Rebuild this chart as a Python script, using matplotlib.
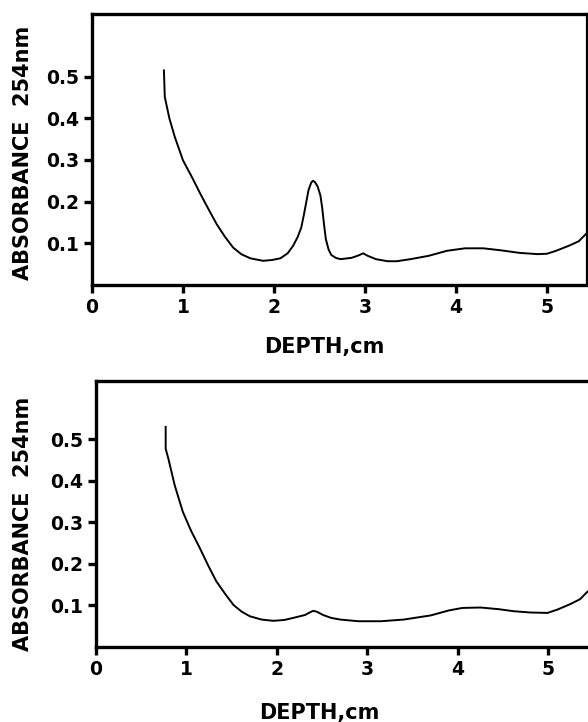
import matplotlib
matplotlib.use("Agg")
import matplotlib.pyplot as plt

plt.rcParams['font.family'] = ['DejaVu Sans']

# Top panel (depth in cm, absorbance at 254 nm)
depth_top = [0.79, 0.80, 0.85, 0.91, 1.00, 1.10, 1.19, 1.28, 1.37, 1.46, 1.55, 1.64,
             1.74, 1.88, 1.98, 2.07, 2.15, 2.21, 2.26, 2.30, 2.33, 2.36, 2.38, 2.41, 2.43,
             2.45, 2.48, 2.51, 2.53, 2.55, 2.57, 2.60, 2.63, 2.68, 2.73, 2.85, 2.93, 2.98, 3.03, 3.12,
             3.25, 3.35, 3.50, 3.70, 3.90, 4.10, 4.30, 4.50, 4.70, 4.90, 5.00, 5.10,
             5.25, 5.35, 5.44]
abs_top = [0.517, 0.451, 0.400, 0.355, 0.299, 0.258, 0.219, 0.182, 0.146, 0.116, 0.090, 0.074,
           0.064, 0.058, 0.060, 0.064, 0.076, 0.094, 0.115, 0.138, 0.170, 0.205, 0.228, 0.246, 0.250,
           0.247, 0.236, 0.215, 0.185, 0.145, 0.110, 0.085, 0.072, 0.065, 0.062, 0.065, 0.071, 0.076, 0.070, 0.062,
           0.057, 0.057, 0.062, 0.070, 0.082, 0.088, 0.088, 0.083, 0.077, 0.074, 0.075, 0.082,
           0.095, 0.105, 0.125]

# Bottom panel
depth_bot = [0.77, 0.77, 0.80, 0.87, 0.96, 1.05, 1.15, 1.24, 1.33, 1.43, 1.52, 1.61,
             1.70, 1.83, 1.96, 2.08, 2.18, 2.31, 2.37, 2.40, 2.44, 2.51, 2.60, 2.70, 2.90,
             3.15, 3.40, 3.55, 3.70, 3.90, 4.05, 4.25, 4.45, 4.62, 4.80, 4.99, 5.10,
             5.24, 5.35, 5.44]
abs_bot = [0.532, 0.477, 0.453, 0.389, 0.325, 0.280, 0.237, 0.196, 0.158, 0.127, 0.101, 0.085,
           0.074, 0.066, 0.063, 0.065, 0.070, 0.077, 0.084, 0.087, 0.085, 0.077, 0.070, 0.066, 0.062,
           0.062, 0.066, 0.071, 0.076, 0.088, 0.094, 0.095, 0.091, 0.086, 0.083, 0.082, 0.090,
           0.103, 0.115, 0.135]

x_ticks = [0, 1, 2, 3, 4, 5]
x_ticklabels = ['0', '1', '2', '3', '4', '5']
y_ticks = [0.1, 0.2, 0.3, 0.4, 0.5]
y_ticklabels = ['0.1', '0.2', '0.3', '0.4', '0.5']
xlabel = 'DEPTH,cm'
ylabel = 'ABSORBANCE  254nm'

W, H = 588, 722
fig = plt.figure(figsize=(W / 100, H / 100), dpi=100)
ax1 = fig.add_axes([92/W, 1-285/H, (587-92)/W, (285-14)/H])
ax2 = fig.add_axes([96/W, 1-647/H, (590-96)/W, (647-381)/H])

panels = [(ax1, depth_top, abs_top, 0.65, 5.44, True),
          (ax2, depth_bot, abs_bot, 0.64, 5.46, False)]

for ax, xs, ys, ytop, xright, right_spine in panels:
    ax.plot(xs, ys, color='black', lw=1.4, solid_joinstyle='round',
            solid_capstyle='butt')
    ax.set_xlim(0, xright)
    ax.set_ylim(0, ytop)
    ax.set_xticks(x_ticks)
    ax.set_xticklabels(x_ticklabels)
    ax.set_yticks(y_ticks)
    ax.set_yticklabels(y_ticklabels)
    for s in ['left', 'bottom', 'top']:
        ax.spines[s].set_linewidth(2.4)
    ax.spines['right'].set_linewidth(1.6)
    ax.spines['right'].set_visible(right_spine)
    ax.tick_params(axis='both', direction='out', length=5.5, width=2.4,
                   labelsize=13.5, pad=4)
    for lab in ax.get_xticklabels() + ax.get_yticklabels():
        lab.set_fontweight('bold')

# axis titles
fig.text(324/W, 1-347/H, xlabel, ha='center', va='center',
         fontsize=15, fontweight='bold')
fig.text(319/W, 1-713/H, xlabel, ha='center', va='center',
         fontsize=15, fontweight='bold')
fig.text(23/W, 1-153/H, ylabel, ha='center', va='center', rotation=90,
         fontsize=15, fontweight='bold')
fig.text(23/W, 1-524/H, ylabel, ha='center', va='center', rotation=90,
         fontsize=15, fontweight='bold')

fig.savefig('out.png', dpi=100)
